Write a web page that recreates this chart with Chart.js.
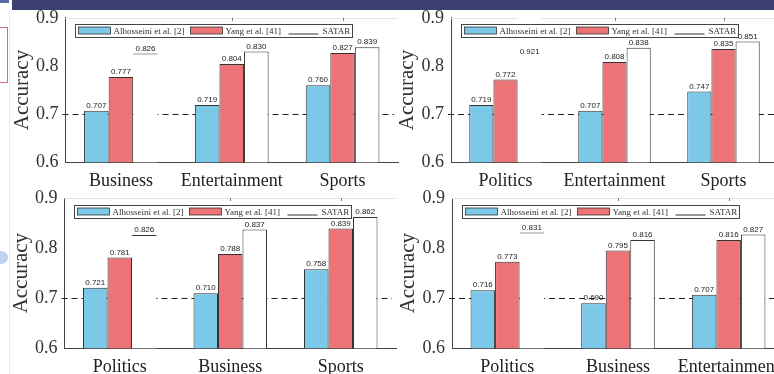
<!DOCTYPE html>
<html>
<head>
<meta charset="utf-8">
<script src="https://cdn.jsdelivr.net/npm/chart.js@4.4.1/dist/chart.umd.min.js"></script>
<style>
  html, body { margin: 0; padding: 0; width: 774px; height: 374px; overflow: hidden; background: #fff; }
  canvas { position: absolute; left: 0; top: 0; }
  .band { position: absolute; left: 12px; top: 0; width: 762px; height: 10px; background: #3c4070; }
  .band-left { position: absolute; left: 0; top: 0; width: 9px; height: 3px; background: #5a6aa8; }
  .rule { position: absolute; left: 9px; top: 10px; width: 1px; height: 364px; background: #ececec; }
  .redbox { position: absolute; left: -4px; top: 27px; width: 10px; height: 54px; border: 1px solid #e06a6a; }
  .dot { position: absolute; left: -5px; top: 251px; width: 13px; height: 13px; border-radius: 50%; background: #bcd2ee; }
</style>
</head>
<body>
<div class="band"></div>
<div class="band-left"></div>
<div class="rule"></div>
<div class="redbox"></div>
<div class="dot"></div>
<canvas id="p1" width="800" height="374"></canvas>
<canvas id="p2" width="800" height="374"></canvas>
<canvas id="p3" width="800" height="374"></canvas>
<canvas id="p4" width="800" height="374"></canvas>
<script>
// Series shown in every panel
const seriesNames = ['Alhosseini et al. [2]', 'Yang et al. [41]', 'SATAR'];
const yTicks = [0.6, 0.7, 0.8, 0.9];
const baselineValue = 0.7;

// Panel 1
const catsA = ['Business', 'Entertainment', 'Sports'];
const alhosseiniA = [0.707, 0.719, 0.760];
const yangA = [0.777, 0.804, 0.827];
const satarA = [0.826, 0.830, 0.839];

// Panel 2
const catsB = ['Politics', 'Entertainment', 'Sports'];
const alhosseiniB = [0.719, 0.707, 0.747];
const yangB = [0.772, 0.808, 0.835];
const satarB = [0.921, 0.838, 0.851];

// Panel 3
const catsC = ['Politics', 'Business', 'Sports'];
const alhosseiniC = [0.721, 0.710, 0.758];
const yangC = [0.781, 0.788, 0.839];
const satarC = [0.826, 0.837, 0.862];

// Panel 4
const catsD = ['Politics', 'Business', 'Entertainment'];
const alhosseiniD = [0.716, 0.690, 0.707];
const yangD = [0.773, 0.795, 0.816];
const satarD = [0.831, 0.816, 0.827];

const COLORS = ['#7cc8e8', '#ec7476', '#ffffff'];
const EDGE = '#333333';
const SERIF = '"Liberation Serif", "Times New Roman", serif';
const SANS = '"Liberation Sans", Arial, sans-serif';
const CANVAS_W = 800, CANVAS_H = 374;
const Y_AXIS_W = 50, X_AXIS_H = 30;

const decorPlugin = {
  id: 'decor',
  beforeDatasetsDraw(chart) {
    const { ctx, chartArea: ca, scales } = chart;
    ctx.save();
    // faint frame line along the top
    ctx.strokeStyle = '#e4e4e4';
    ctx.lineWidth = 1;
    ctx.beginPath();
    ctx.moveTo(ca.left, Math.round(ca.top) + 0.5);
    ctx.lineTo(ca.right, Math.round(ca.top) + 0.5);
    ctx.stroke();
    // small ticks on the top edge
    ctx.strokeStyle = '#777';
    for (let i = 1; i < chart.data.labels.length; i++) {
      const x = Math.round(scales.x.getPixelForValue(i)) + 0.5;
      ctx.beginPath();
      ctx.moveTo(x, ca.top);
      ctx.lineTo(x, ca.top + 3);
      ctx.stroke();
    }
    // dashed reference line
    const y = Math.round(scales.y.getPixelForValue(baselineValue)) + 0.5;
    ctx.strokeStyle = '#222';
    ctx.setLineDash([6, 4]);
    ctx.beginPath();
    ctx.moveTo(ca.left - 3, y);
    ctx.lineTo(ca.right - 4, y);
    ctx.stroke();
    ctx.restore();
  },
  afterDatasetsDraw(chart) {
    const { ctx, chartArea: ca, scales } = chart;
    ctx.save();
    // value labels
    ctx.font = '8px ' + SANS;
    ctx.fillStyle = '#222';
    ctx.textAlign = 'center';
    ctx.textBaseline = 'bottom';
    chart.data.datasets.forEach((ds, di) => {
      chart.getDatasetMeta(di).data.forEach((el, i) => {
        const v = ds.data[i];
        let y = el.y - 1;
        if (v > scales.y.max) y = ca.top + 37.5;
        ctx.fillText(v.toFixed(3), el.x, y);
      });
    });
    // y-axis title
    ctx.save();
    ctx.translate(ca.left - 38, (ca.top + ca.bottom) / 2);
    ctx.rotate(-Math.PI / 2);
    ctx.font = '21px ' + SERIF;
    ctx.fillStyle = '#333';
    ctx.textAlign = 'center';
    ctx.textBaseline = 'alphabetic';
    ctx.fillText('Accuracy', 0, 0);
    ctx.restore();
    // legend box
    const bx = Math.round(ca.left + 9.5) + 0.5;
    const by = Math.round(ca.top + 6.5) + 0.5;
    const bw = 277, bh = 13;
    ctx.fillStyle = '#fff';
    ctx.fillRect(bx, by, bw, bh);
    ctx.strokeStyle = '#444';
    ctx.lineWidth = 1;
    ctx.strokeRect(bx, by, bw, bh);
    const sy = by + 2.5, sh = 7;
    const swatchX = [3, 115];
    const textX = [38, 150, 247];
    ctx.lineWidth = 0.8;
    swatchX.forEach((sx, k) => {
      ctx.fillStyle = COLORS[k];
      ctx.fillRect(bx + sx, sy, 32, sh);
      ctx.strokeStyle = EDGE;
      ctx.strokeRect(bx + sx, sy, 32, sh);
    });
    ctx.strokeStyle = '#333';
    ctx.lineWidth = 1;
    ctx.beginPath();
    ctx.moveTo(bx + 213, sy + sh);
    ctx.lineTo(bx + 243, sy + sh);
    ctx.stroke();
    ctx.font = '9px ' + SERIF;
    ctx.fillStyle = '#333';
    ctx.textAlign = 'left';
    ctx.textBaseline = 'middle';
    seriesNames.forEach((name, k) => ctx.fillText(name, bx + textX[k], by + bh / 2 + 0.5));
    ctx.restore();
  }
};

function makePanel(id, cats, a, b, c, frame) {
  const data = [a, b, c];
  return new Chart(document.getElementById(id), {
    type: 'bar',
    data: {
      labels: cats,
      datasets: seriesNames.map((name, k) => ({
        label: name,
        data: data[k],
        backgroundColor: COLORS[k],
        borderColor: EDGE,
        borderWidth: (ctx) => (k === 2 && ctx.dataIndex === 0)
          ? { top: 1, left: 0, right: 0, bottom: 0 } : 1,
        categoryPercentage: 0.665,
        barPercentage: 1.0
      }))
    },
    options: {
      responsive: false,
      animation: false,
      devicePixelRatio: 1,
      layout: {
        autoPadding: false,
        padding: {
          left: frame.left - Y_AXIS_W,
          right: CANVAS_W - frame.right,
          top: frame.top,
          bottom: CANVAS_H - frame.bottom - X_AXIS_H
        }
      },
      plugins: { legend: { display: false }, tooltip: { enabled: false } },
      scales: {
        x: {
          type: 'category',
          offset: true,
          grid: { display: false, drawTicks: false },
          border: { display: true, color: '#444', width: 1 },
          ticks: { font: { family: SERIF, size: 18 }, color: '#222', padding: 8, maxRotation: 0, autoSkip: false },
          afterFit: (s) => { s.height = X_AXIS_H; }
        },
        y: {
          min: yTicks[0],
          max: yTicks[yTicks.length - 1],
          afterBuildTicks: (s) => { s.ticks = yTicks.map(v => ({ value: v })); },
          grid: { display: false, drawTicks: false },
          border: { display: true, color: '#444', width: 1 },
          ticks: { font: { family: SERIF, size: 18 }, color: '#333', padding: 7, callback: (v) => Number(v).toFixed(1) },
          afterFit: (s) => { s.width = Y_AXIS_W; }
        }
      }
    },
    plugins: [decorPlugin]
  });
}

makePanel('p1', catsA, alhosseiniA, yangA, satarA, { left: 65.5, right: 398, top: 12.7, bottom: 162.3 });
makePanel('p2', catsB, alhosseiniB, yangB, satarB, { left: 451, right: 778, top: 12.7, bottom: 162.3 });
makePanel('p3', catsC, alhosseiniC, yangC, satarC, { left: 64.5, right: 396, top: 198, bottom: 348.3 });
makePanel('p4', catsD, alhosseiniD, yangD, satarD, { left: 452, right: 784, top: 198, bottom: 348.3 });
</script>
</body>
</html>
